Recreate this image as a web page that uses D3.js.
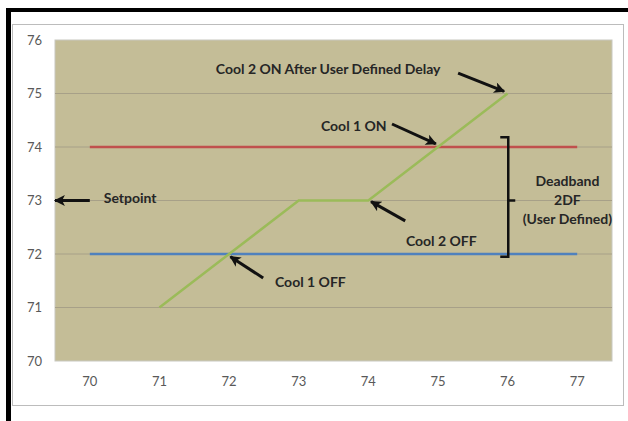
<!DOCTYPE html>
<html>
<head>
<meta charset="utf-8">
<script src="https://cdn.jsdelivr.net/npm/d3@7"></script>
<style>
  body { margin: 0; background: #fff; }
  svg { display: block; font-family: Lato, "Open Sans", sans-serif; }
</style>
</head>
<body>
<svg id="chart" width="628" height="421"></svg>
<script>
// categories on the x axis
var categories = [70, 71, 72, 73, 74, 75, 76, 77];
var yTicks = [70, 71, 72, 73, 74, 75, 76];
// series
var coolOnValues = [74, 74, 74, 74, 74, 74, 74, 74];   // red
var coolOffValues = [72, 72, 72, 72, 72, 72, 72, 72];  // blue
var tempX = [71, 72, 73, 74, 75, 76];
var tempValues = [71, 72, 73, 73, 74, 75];             // green

// annotations in data units (x = category value, y = temperature)
var labels = [
  {text: "Cool 2 ON After User Defined Delay", x: 71.81, y: 75.46, from: [75.29, 75.38], to: [75.95, 75.04]},
  {text: "Cool 1 ON", x: 73.32, y: 74.39, from: [74.34, 74.43], to: [74.97, 74.06]},
  {text: "Setpoint", x: 70.20, y: 73.04, from: [70.0, 73.0], to: [69.50, 73.0]},
  {text: "Cool 2 OFF", x: 74.54, y: 72.24, from: [74.53, 72.62], to: [74.04, 72.98]},
  {text: "Cool 1 OFF", x: 72.66, y: 71.48, from: [72.49, 71.55], to: [72.02, 71.95]}
];
var deadbandLines = ["Deadband", "2DF", "(User Defined)"];

var svg = d3.select("#chart");

// frame: thick black top and left, thin grey box for the chart
svg.append("rect").attr("x", 6).attr("y", 8).attr("width", 622).attr("height", 4).attr("fill", "#000");
svg.append("rect").attr("x", 6).attr("y", 8).attr("width", 5).attr("height", 413).attr("fill", "#000");
svg.append("rect").attr("x", 12.5).attr("y", 24.5).attr("width", 611).attr("height", 381)
    .attr("fill", "#fff").attr("stroke", "#bcbcbc").attr("stroke-width", 1);

var margin = {top: 40, left: 55, right: 16, bottom: 60};
var width = 628 - margin.left - margin.right,
    height = 421 - margin.top - margin.bottom;

var x = d3.scaleBand().domain(categories).range([0, width]);
var y = d3.scaleLinear().domain([70, 76]).range([height, 0]);
// continuous helper over the category positions, for lines and notes
var xv = d3.scaleLinear().domain([70, 71])
    .range([x(70) + x.bandwidth() / 2, x(71) + x.bandwidth() / 2]);

var g = svg.append("g").attr("transform", "translate(" + margin.left + "," + margin.top + ")");

g.append("rect").attr("width", width).attr("height", height)
    .attr("fill", "#c4bd97").attr("stroke", "#c8c8c0").attr("stroke-width", 1);

// gridlines
g.selectAll(".grid").data(yTicks.filter(function(d) { return d > 70 && d < 76; }))
  .enter().append("line")
    .attr("x1", 0).attr("x2", width)
    .attr("y1", function(d) { return y(d); }).attr("y2", function(d) { return y(d); })
    .attr("stroke", "#a7a088").attr("stroke-width", 1);

// axes (labels only)
var yAxis = g.append("g").call(d3.axisLeft(y).tickValues(yTicks).tickFormat(d3.format("d"))
    .tickSize(0).tickPadding(13));
var xAxis = g.append("g").attr("transform", "translate(0," + height + ")")
    .call(d3.axisBottom(x).tickSize(0).tickPadding(16));
[xAxis, yAxis].forEach(function(a) {
  a.select(".domain").remove();
  a.selectAll("text").attr("fill", "#595959").style("font-size", "13px")
    .style("font-family", "Lato, sans-serif");
});

var line = d3.line().x(function(d) { return xv(d[0]); }).y(function(d) { return y(d[1]); });

g.append("path").datum(categories.map(function(c, i) { return [c, coolOnValues[i]]; }))
    .attr("d", line).attr("fill", "none").attr("stroke", "#c0504d").attr("stroke-width", 2.5);
g.append("path").datum(categories.map(function(c, i) { return [c, coolOffValues[i]]; }))
    .attr("d", line).attr("fill", "none").attr("stroke", "#4f81bd").attr("stroke-width", 2.5);
g.append("path").datum(tempX.map(function(c, i) { return [c, tempValues[i]]; }))
    .attr("d", line).attr("fill", "none").attr("stroke", "#9bbb59").attr("stroke-width", 2.5);

// arrow head
svg.append("defs").append("marker")
    .attr("id", "arrow").attr("viewBox", "0 0 10 10").attr("refX", 9).attr("refY", 5)
    .attr("markerWidth", 13).attr("markerHeight", 11).attr("markerUnits", "userSpaceOnUse")
    .attr("orient", "auto")
  .append("path").attr("d", "M0,0 L10,5 L0,10 L2.5,5 Z").attr("fill", "#111");

var notes = g.selectAll(".note").data(labels).enter().append("g");
notes.append("text")
    .attr("x", function(d) { return xv(d.x); })
    .attr("y", function(d) { return y(d.y); })
    .attr("dy", "0.35em")
    .attr("fill", "#262626").style("font-size", "14px").style("font-weight", "bold")
    .text(function(d) { return d.text; });
notes.append("line")
    .attr("x1", function(d) { return xv(d.from[0]); }).attr("y1", function(d) { return y(d.from[1]); })
    .attr("x2", function(d) { return xv(d.to[0]); }).attr("y2", function(d) { return y(d.to[1]); })
    .attr("stroke", "#111").attr("stroke-width", 3).attr("marker-end", "url(#arrow)");

// deadband brace
var bx = xv(76.01), bt = y(74.18), bb = y(71.95), bm = y(73.0);
g.append("path")
    .attr("d", "M" + (bx - 8) + "," + bt + " L" + bx + "," + bt + " L" + bx + "," + bb + " L" + (bx - 8) + "," + bb +
      " M" + bx + "," + bm + " L" + (bx + 7) + "," + bm)
    .attr("fill", "none").attr("stroke", "#111").attr("stroke-width", 2.5);

g.append("text").attr("text-anchor", "middle")
    .attr("fill", "#262626").style("font-size", "14px").style("font-weight", "bold")
  .selectAll("tspan").data(deadbandLines).enter().append("tspan")
    .attr("x", xv(76.86))
    .attr("y", function(d, i) { return y(73.36) + i * 19; })
    .attr("dy", "0.35em")
    .text(function(d) { return d; });
</script>
</body>
</html>
